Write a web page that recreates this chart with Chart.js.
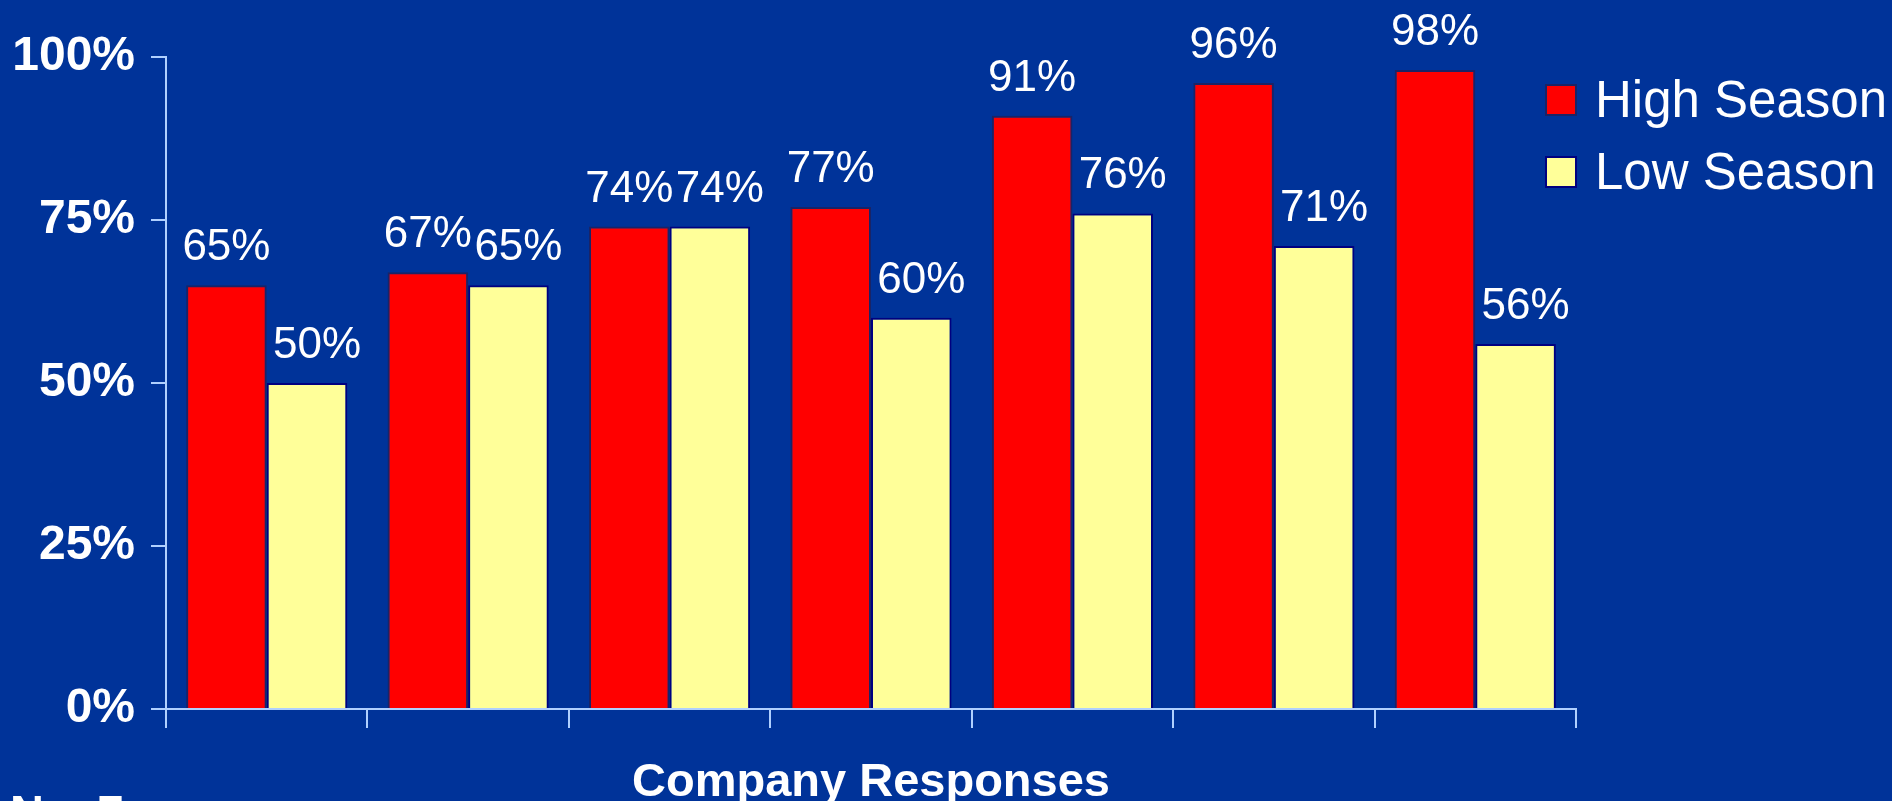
<!DOCTYPE html>
<html>
<head>
<meta charset="utf-8">
<title>High / Low Season</title>
<script src="https://cdn.jsdelivr.net/npm/chart.js@4.4.1/dist/chart.umd.min.js"></script>
<style>
  html, body { margin: 0; padding: 0; background: #003399; overflow: hidden; }
  #chart { display: block; }
</style>
</head>
<body>
<canvas id="chart" width="1892" height="801"></canvas>
<script>
// データ
const companies = ["1", "2", "3", "4", "5", "6", "7"];
const highSeason = [65, 67, 74, 77, 91, 96, 98];
const lowSeason = [50, 65, 74, 60, 76, 71, 56];
const yTicks = [0, 25, 50, 75, 100];

const FONT = "'Liberation Sans', Arial, Helvetica, sans-serif";
const AXIS_COLOR = "#B0D0FF";

// 棒の上の数値ラベル
const valueLabels = {
  id: "valueLabels",
  afterDatasetsDraw(chart) {
    const ctx = chart.ctx;
    ctx.save();
    ctx.font = "44px " + FONT;
    ctx.fillStyle = "#FFFFFF";
    ctx.textAlign = "center";
    ctx.textBaseline = "alphabetic";
    chart.data.datasets.forEach((ds, i) => {
      const shift = i === 1 ? 10 : 0;
      chart.getDatasetMeta(i).data.forEach((bar, j) => {
        ctx.fillText(ds.data[j] + "%", bar.x + shift, bar.y - 25);
      });
    });
    ctx.restore();
  },
};

// 凡例（グラフ右上）
const sideLegend = {
  id: "sideLegend",
  afterDraw(chart) {
    const ctx = chart.ctx;
    ctx.save();
    ctx.font = "51px " + FONT;
    ctx.textBaseline = "middle";
    ctx.textAlign = "left";
    chart.data.datasets.forEach((ds, i) => {
      const cy = 100 + i * 72;
      ctx.fillStyle = ds.backgroundColor;
      ctx.fillRect(1545, cy - 16, 32, 32);
      ctx.strokeStyle = ds.borderColor;
      ctx.lineWidth = 2;
      ctx.strokeRect(1546, cy - 15, 30, 30);
      ctx.fillStyle = "#FFFFFF";
      ctx.fillText(ds.label, 1595, cy + 3);
    });
    // 回答数
    ctx.font = "bold 47px " + FONT;
    ctx.textBaseline = "alphabetic";
    ctx.fillText("N = 7", 10, 828);
    ctx.restore();
  },
};

new Chart(document.getElementById("chart"), {
  type: "bar",
  data: {
    labels: companies,
    datasets: [
      {
        label: "High Season",
        data: highSeason,
        backgroundColor: "#FF0000",
        borderColor: "#1A2466",
        borderWidth: 2,
      },
      {
        label: "Low Season",
        data: lowSeason,
        backgroundColor: "#FFFF99",
        borderColor: "#000080",
        borderWidth: 2,
      },
    ],
  },
  options: {
    responsive: false,
    animation: false,
    layout: {
      padding: { left: 0, right: 316, top: 57, bottom: 0 },
    },
    datasets: {
      bar: { categoryPercentage: 0.8, barPercentage: 1.0 },
    },
    plugins: {
      legend: { display: false },
      tooltip: { enabled: false },
    },
    scales: {
      x: {
        grid: {
          drawOnChartArea: false,
          drawTicks: true,
          tickLength: 19,
          color: AXIS_COLOR,
          lineWidth: 2,
          offset: true,
        },
        border: { color: AXIS_COLOR, width: 2 },
        ticks: { display: false },
        title: {
          display: true,
          text: "Company Responses",
          color: "#FFFFFF",
          font: { family: FONT, size: 47, weight: "bold", lineHeight: 1 },
          padding: { top: 0, bottom: -6 },
        },
        afterFit(scale) {
          scale.height = 92;
        },
      },
      y: {
        min: 0,
        max: 100,
        afterBuildTicks(scale) {
          scale.ticks = yTicks.map((v) => ({ value: v }));
        },
        grid: {
          drawOnChartArea: false,
          drawTicks: true,
          tickLength: 15,
          color: AXIS_COLOR,
          lineWidth: 2,
        },
        border: { color: AXIS_COLOR, width: 2 },
        ticks: {
          color: "#FFFFFF",
          padding: 16,
          font: { family: FONT, size: 48, weight: "bold" },
          callback: function (value) {
            return value + "%";
          },
        },
        afterFit(scale) {
          scale.width = 166;
        },
      },
    },
  },
  plugins: [valueLabels, sideLegend],
});
</script>
</body>
</html>
